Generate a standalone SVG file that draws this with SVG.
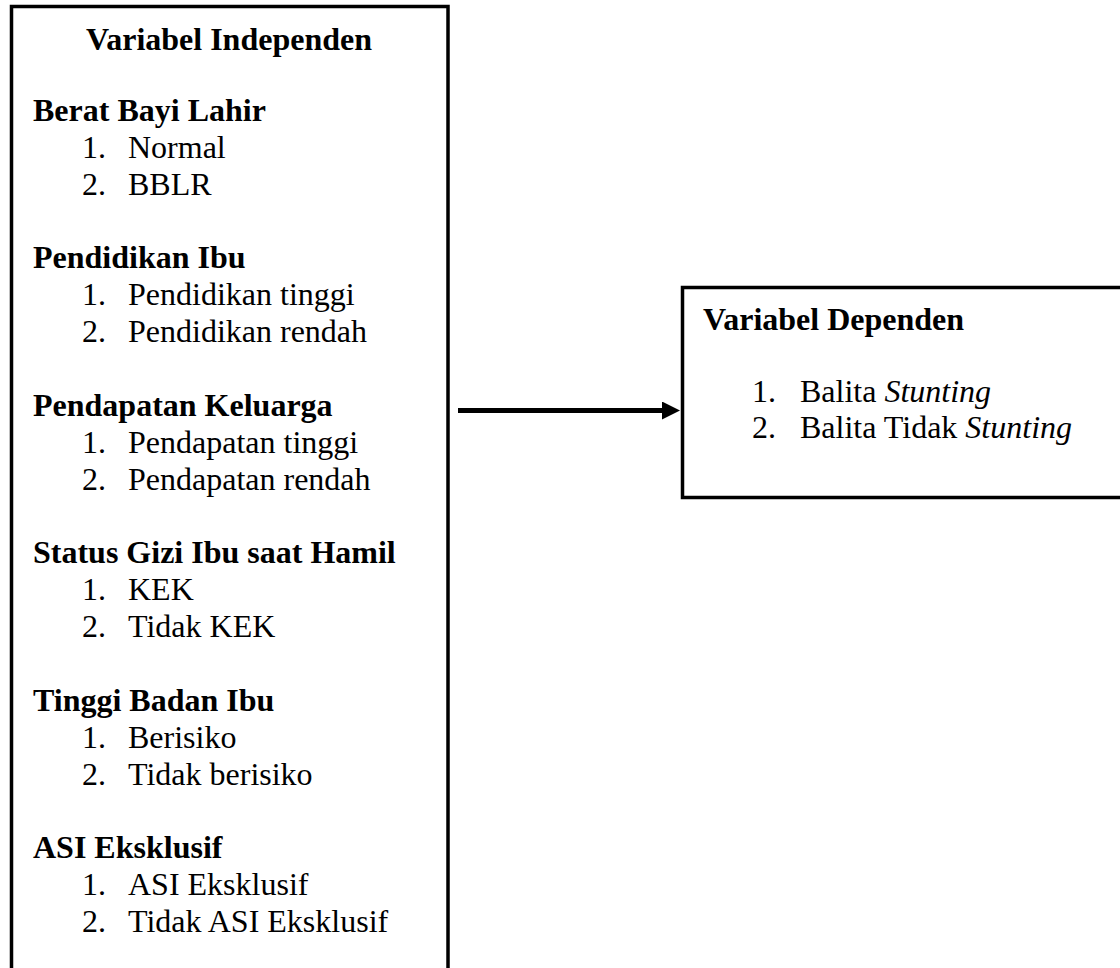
<svg xmlns="http://www.w3.org/2000/svg" width="1120" height="968" viewBox="0 0 1120 968">
<style>
text{font-family:"Liberation Serif","Times New Roman",serif;font-size:32px;fill:#000}
.b{font-weight:bold}
.i{font-style:italic}
.box{fill:#fff;stroke:#000;stroke-width:3.5}
</style>
<defs>
<marker id="ah" markerUnits="userSpaceOnUse" markerWidth="20" markerHeight="20" refX="0" refY="9" orient="auto">
<path d="M0,0 L18,9 L0,18 Z" fill="#000"/>
</marker>
</defs>
<rect width="1120" height="968" fill="#fff"/>
<g id="independen">
<rect class="box" x="11.5" y="6.5" width="436.5" height="980"/>
<text class="b" x="229" y="50" text-anchor="middle">Variabel Independen</text>
<text class="b" x="33" y="120.7">Berat Bayi Lahir</text>
<text x="82" y="157.6">1.</text><text x="128" y="157.6">Normal</text>
<text x="82" y="194.5">2.</text><text x="128" y="194.5">BBLR</text>
<text class="b" x="33" y="268.2">Pendidikan Ibu</text>
<text x="82" y="305.1">1.</text><text x="128" y="305.1">Pendidikan tinggi</text>
<text x="82" y="342">2.</text><text x="128" y="342">Pendidikan rendah</text>
<text class="b" x="33" y="415.7">Pendapatan Keluarga</text>
<text x="82" y="452.6">1.</text><text x="128" y="452.6">Pendapatan tinggi</text>
<text x="82" y="489.5">2.</text><text x="128" y="489.5">Pendapatan rendah</text>
<text class="b" x="33" y="563.3">Status Gizi Ibu saat Hamil</text>
<text x="82" y="600.1">1.</text><text x="128" y="600.1">KEK</text>
<text x="82" y="637">2.</text><text x="128" y="637">Tidak KEK</text>
<text class="b" x="33" y="710.8">Tinggi Badan Ibu</text>
<text x="82" y="747.7">1.</text><text x="128" y="747.7">Berisiko</text>
<text x="82" y="784.5">2.</text><text x="128" y="784.5">Tidak berisiko</text>
<text class="b" x="33" y="858.3">ASI Eksklusif</text>
<text x="82" y="895.2">1.</text><text x="128" y="895.2">ASI Eksklusif</text>
<text x="82" y="932.1">2.</text><text x="128" y="932.1">Tidak ASI Eksklusif</text>
</g>
<g id="dependen">
<rect class="box" x="682.5" y="287.5" width="500" height="210"/>
<text class="b" x="703" y="330">Variabel Dependen</text>
<text x="752" y="401.7">1.</text><text x="800" y="401.7">Balita <tspan class="i">Stunting</tspan></text>
<text x="752" y="438.3">2.</text><text x="800" y="438.3">Balita Tidak <tspan class="i">Stunting</tspan></text>
</g>
<g id="connectors">
<line x1="458" y1="410.5" x2="662" y2="410.5" stroke="#000" stroke-width="5" marker-end="url(#ah)"/>
</g>
</svg>
